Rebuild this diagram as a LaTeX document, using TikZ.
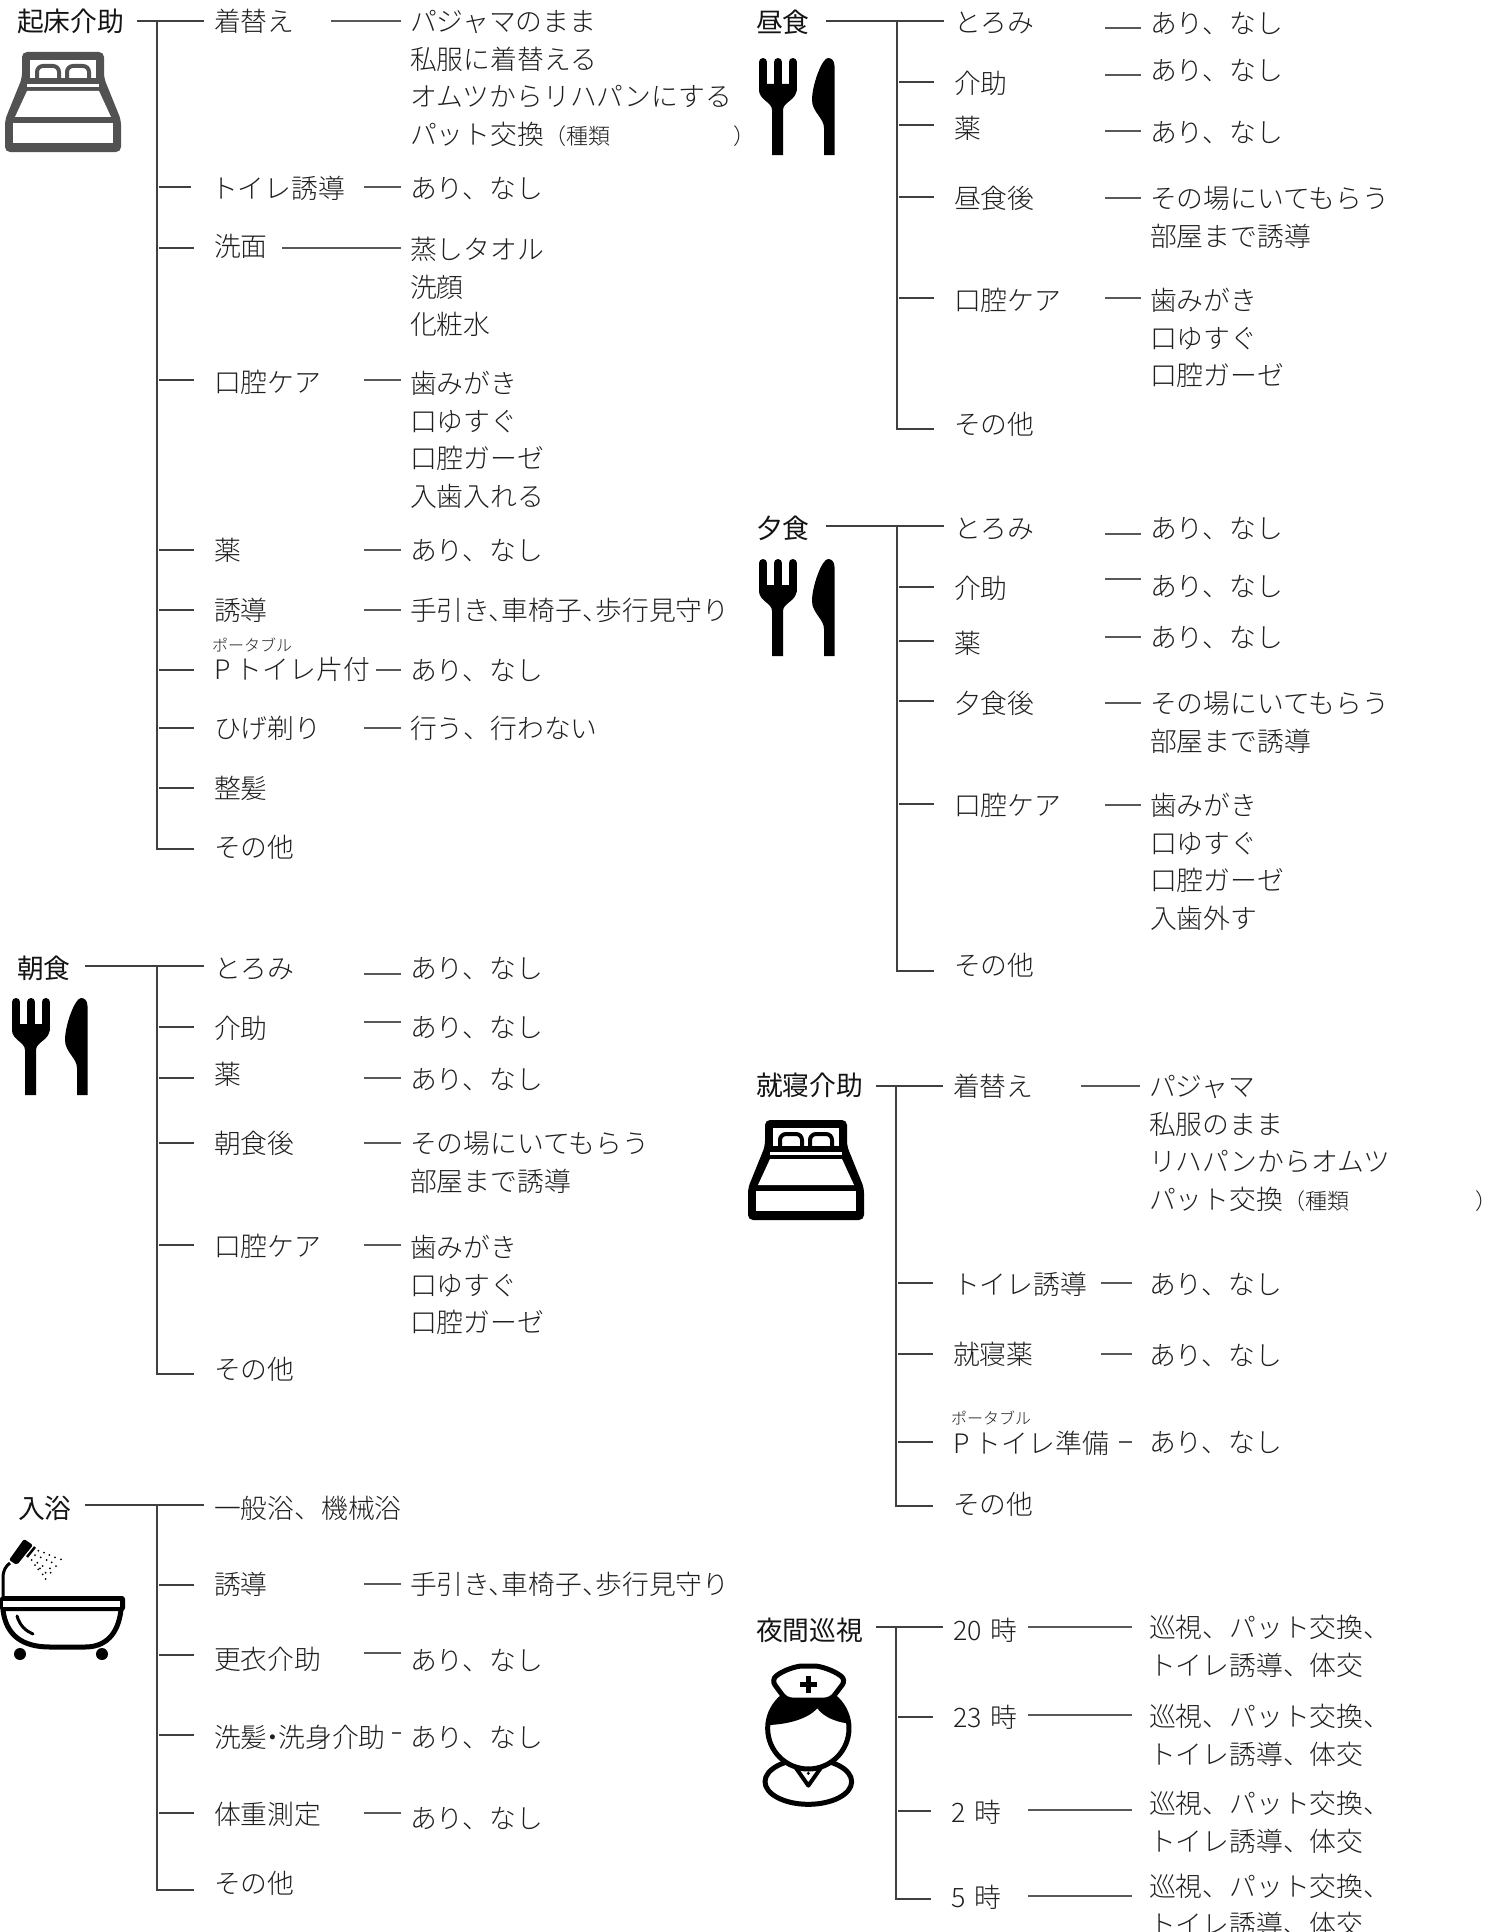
\documentclass[tikz,border=0pt]{standalone}
\usepackage{fontspec}
\setmainfont{Noto Sans CJK JP Light}
\newfontfamily\ttlfont{Noto Sans CJK JP}
\definecolor{inkT}{gray}{0.12}
\definecolor{inkH}{gray}{0.08}
\definecolor{spineC}{gray}{0.25}
\definecolor{leafC}{gray}{0.35}
\newcommand\bodyf{\fontsize{26.8}{37.4}\selectfont}
\newcommand\st{\rule{0pt}{24.8pt}}
\tikzset{
 lbl/.style={anchor=north west,inner sep=0pt,outer sep=0pt,align=left,font=\bodyf,text=inkT},
 ttl/.style={lbl,font=\ttlfont\bodyf,text=inkH},
 rubyt/.style={anchor=west,inner sep=0pt,font=\fontsize{16}{16}\selectfont,text=inkT},
 spine/.style={draw=spineC,line width=1.3pt},
 stub/.style={draw=spineC,line width=1.2pt,shorten <=2pt,shorten >=20pt},
 leaf/.style={draw=leafC,line width=1.1pt,shorten >=9pt},
 leafs/.style={draw=leafC,line width=1.1pt,shorten >=17pt},
 icon/.style={line join=round},
}
% text node whose east side lies at x1 (start of its connector)
\newcommand\tn[5]{\node[lbl,text width=#4pt-#2pt] (#1) at (#2,#3-14) {\st #5};}
\newcommand\hn[5]{\node[ttl,text width=#4pt-#2pt] (#1) at (#2,#3-14) {\st #5};}
\newcommand\vn[4]{\node[lbl] (#1) at (#2,#3-14) {\st #4};}
\newcommand\lf[3]{\draw[leaf] (#1.east |- 0,#3) -- (#2.west |- 0,#3);}
\newcommand\ls[3]{\draw[leafs] (#1.east |- 0,#3) -- (#2.west |- 0,#3);}
\newcommand\stb[3]{\draw[stub] (#1 |- 0,#3) -- (#2.west |- 0,#3);}
\newcommand\tp[3]{\draw[spine,shorten >=10pt] (#1.east |- #3) -- (#2.west |- #3);}
\newcommand\spn[3]{\draw[spine,shorten >=20pt] (#1) -- (#2) -- (#3.west |- #2);}
\newcommand\ari{あり、なし}
\newcommand\oral{歯みがき\\口ゆすぐ\\口腔ガーゼ}
\newcommand\tebiki{手引き、\kern-13.5pt 車椅子、\kern-13.5pt 歩行見守り}
\newcommand\junshi{巡視、パット交換、\\トイレ誘導、体交}
\newcommand\smlf{\fontsize{22}{37.4}\selectfont}
\newcommand\bedicon[3]{\begin{scope}[shift={(#1,#2)},icon]
 \fill[#3,rounded corners=5pt] (22,52)--(104,52)--(104,78)--(121,120)--(121,152)--(5,152)--(5,120)--(22,78)--cycle;
 \fill[white] (30,60) rectangle (96,78);
 \draw[#3,line width=4pt,rounded corners=6pt] (37,78)--(37,66)--(59,66)--(59,78);
 \draw[#3,line width=4pt,rounded corners=6pt] (67,78)--(67,66)--(89,66)--(89,78);
 \fill[white] (27,84) rectangle (99,87);
 \fill[white] (27,91)--(99,91)--(111,117)--(15,117)--cycle;
 \fill[white] (13,123) rectangle (113,143);
\end{scope}}
\newcommand\cutlery[2]{\begin{scope}[shift={(#1,#2)},icon]
 \draw[black,line width=8pt,line cap=round] (16,1002)--(16,1030) (31,1002)--(31,1030) (45.5,1002)--(45.5,1030);
 \fill[black] (12,1024)--(12,1030) .. controls (12,1040) and (25,1042) .. (25,1050)--(25,1095)--(36,1095)--(36,1050) .. controls (36,1042) and (49.5,1040) .. (49.5,1030)--(49.5,1024)--cycle;
 \fill[black] (87.5,1095)--(87.5,1006) .. controls (87.5,1000) and (84,998) .. (81,998) .. controls (75,998) and (65,1025) .. (65,1040) .. controls (65,1052) and (77,1058) .. (77,1068)--(77,1095)--cycle;
\end{scope}}
\begin{document}
\begin{tikzpicture}[x=1pt,y=-1pt]
\useasboundingbox (0,0) rectangle (1500,1932);
% ---------- icons
\bedicon{0}{0}{black!68}
\bedicon{743}{1068}{black}
\cutlery{0}{0}
\cutlery{747}{-940}
\cutlery{747}{-439}
% bath
\begin{scope}[shift={(0,1480)},x=1pt,y=-1pt,icon]
 \draw[black,line width=5pt,line cap=round] (3,130) .. controls (6,155) and (22,167) .. (50,167) -- (85,167) .. controls (105,167) and (118,155) .. (121,130);
 \draw[black,line width=3pt,line cap=round] (17,136) .. controls (20,146) and (26,151) .. (33,154);
 \fill[black] (20,174) ellipse (6 and 6);
 \fill[black] (102,174) ellipse (6 and 6);
 \fill[black,rounded corners=3pt] (0,116) rectangle (125,131);
 \fill[white] (3,121) rectangle (120,127);
 \draw[black,line width=3pt] (3,116) -- (3,98) .. controls (3,90) and (6,86) .. (10,83);
 \fill[black,rounded corners=2pt] (9,80)--(24,59)--(33,65)--(17,85)--cycle;
 \draw[black,line width=2.5pt] (27,77)--(35,67);
 \foreach \a/\b in {115/212,132/218,148/225,165/232,183/238,105/225,122/232,140/240,155/247,168/258,95/240,112/248,128/258,150/265,105/255,120/265,137/278,152/278,115/268,128/283,137/297}
  \fill[black] (\a/3,\b/3) circle (1);
\end{scope}
% nurse
\begin{scope}[shift={(740,1620)},x=0.3333pt,y=-0.3333pt,icon]
 \draw[black,line width=5pt,fill=white] (205,485) ellipse (130 and 68);
 \draw[black,line width=4pt,fill=white] (165,440)--(205,497)--(245,440)--cycle;
 \fill[black] (205,460) circle (5);
 \draw[black,line width=5pt,fill=white] (205,325) circle (122);
 \fill[black] (88,315) .. controls (85,260) and (120,215) .. (205,205) .. controls (290,215) and (325,260) .. (322,310) .. controls (285,305) and (250,290) .. (232,265) .. controls (205,295) and (150,312) .. (88,315) -- cycle;
 \draw[black,line width=5pt,fill=white,rounded corners=6pt] (138,240)--(94,180) .. controls (130,150) and (170,138) .. (205,138) .. controls (240,138) and (280,150) .. (318,180)--(272,240)--cycle;
 \fill[black] (198,168) rectangle (214,218);
 \fill[black] (180,185) rectangle (232,200);
\end{scope}
% ---------- 起床介助
\coordinate (s1t) at (157,21); \coordinate (s1b) at (157,849);
\hn{a0}{17}{21}{137}{起床介助}
\tn{a1}{214}{21}{331}{着替え}
\vn{a1v}{410}{21}{パジャマのまま\\私服に着替える\\オムツからリハパンにする\\パット交換{\smlf（種類\hspace*{123pt}）}}
\tn{a2}{211}{188}{364}{トイレ誘導}
\vn{a2v}{410}{188}{\ari}
\tn{a3}{214}{246}{282}{洗面}
\vn{a3v}{410}{249}{蒸しタオル\\洗顔\\化粧水}
\tn{a4}{214}{382}{364}{口腔ケア}
\vn{a4v}{410}{383}{\oral\\入歯入れる}
\tn{a5}{214}{550}{364}{薬}
\vn{a5v}{410}{550}{\ari}
\tn{a6}{214}{610}{364}{誘導}
\vn{a6v}{410}{610}{\tebiki}
\tn{a7}{214}{669}{376}{P\kern5.5pt トイレ片付}
\node[rubyt] (a7r) at (212,645) {ポータブル};
\vn{a7v}{410}{670}{\ari}
\tn{a8}{214}{728}{364}{ひげ剃り}
\vn{a8v}{410}{728}{行う、行わない}
\tn{a9}{214}{788}{364}{整髪}
\tn{a10}{214}{847}{364}{その他}
\tp{a0}{a1}{s1t}
\spn{s1t}{s1b}{a10}
\stb{s1t}{a2}{187}\stb{s1t}{a3}{248}\stb{s1t}{a4}{380}\stb{s1t}{a5}{550}\stb{s1t}{a6}{610}\stb{s1t}{a7}{670}\stb{s1t}{a8}{728}\stb{s1t}{a9}{788}
\lf{a1}{a1v}{21}\lf{a2}{a2v}{187}\lf{a3}{a3v}{248}\lf{a4}{a4v}{380}\lf{a5}{a5v}{550}\lf{a6}{a6v}{610}\lf{a7}{a7v}{670}\lf{a8}{a8v}{728}
% ---------- 朝食
\coordinate (s2t) at (157,966); \coordinate (s2b) at (157,1374);
\hn{b0}{17}{968}{85}{朝食}
\tn{b1}{214}{968}{364}{とろみ}
\vn{b1v}{410}{968}{\ari}
\tn{b2}{214}{1028}{364}{介助}
\vn{b2v}{410}{1027}{\ari}
\tn{b3}{214}{1074}{364}{薬}
\vn{b3v}{410}{1079}{\ari}
\tn{b4}{214}{1143}{364}{朝食後}
\vn{b4v}{410}{1143}{その場にいてもらう\\部屋まで誘導}
\tn{b5}{214}{1246}{364}{口腔ケア}
\vn{b5v}{410}{1247}{\oral}
\tn{b6}{214}{1369}{364}{その他}
\tp{b0}{b1}{s2t}
\spn{s2t}{s2b}{b6}
\stb{s2t}{b2}{1027}\stb{s2t}{b3}{1078}\stb{s2t}{b4}{1143}\stb{s2t}{b5}{1245}
\lf{b1}{b1v}{974}\lf{b2}{b2v}{1022}\lf{b3}{b3v}{1078}\lf{b4}{b4v}{1143}\lf{b5}{b5v}{1245}
% ---------- 入浴
\coordinate (s3t) at (157,1505); \coordinate (s3b) at (157,1890);
\hn{c0}{18}{1508}{85}{入浴}
\tn{c1}{214}{1508}{364}{一般浴、機械浴}
\tn{c2}{214}{1584}{364}{誘導}
\vn{c2v}{410}{1584}{\tebiki}
\tn{c3}{214}{1659}{364}{更衣介助}
\vn{c3v}{410}{1660}{\ari}
\tn{c4}{214}{1737}{392}{洗髪\kern-8pt ・\kern-8pt 洗身介助}
\vn{c4v}{410}{1737}{\ari}
\tn{c5}{214}{1814}{364}{体重測定}
\vn{c5v}{410}{1818}{\ari}
\tn{c6}{214}{1883}{364}{その他}
\tp{c0}{c1}{s3t}
\spn{s3t}{s3b}{c6}
\stb{s3t}{c2}{1585}\stb{s3t}{c3}{1655}\stb{s3t}{c4}{1735}\stb{s3t}{c5}{1813}
\lf{c2}{c2v}{1584}\lf{c3}{c3v}{1653}\lf{c4}{c4v}{1733}\lf{c5}{c5v}{1813}
% ---------- 昼食
\coordinate (s4t) at (897,21); \coordinate (s4b) at (897,429);
\hn{d0}{756}{22}{826}{昼食}
\tn{d1}{954}{22}{1105}{とろみ}
\vn{d1v}{1150}{23}{\ari}
\tn{d2}{954}{83}{1105}{介助}
\vn{d2v}{1150}{70}{\ari}
\tn{d3}{954}{128}{1105}{薬}
\vn{d3v}{1150}{132}{\ari}
\tn{d4}{954}{198}{1105}{昼食後}
\vn{d4v}{1150}{198}{その場にいてもらう\\部屋まで誘導}
\tn{d5}{954}{300}{1105}{口腔ケア}
\vn{d5v}{1150}{300}{\oral}
\tn{d6}{954}{424}{1105}{その他}
\tp{d0}{d1}{s4t}
\spn{s4t}{s4b}{d6}
\stb{s4t}{d2}{82}\stb{s4t}{d3}{125}\stb{s4t}{d4}{197}\stb{s4t}{d5}{298}
\lf{d1}{d1v}{28}\lf{d2}{d2v}{75}\lf{d3}{d3v}{131}\lf{d4}{d4v}{198}\lf{d5}{d5v}{298}
% ---------- 夕食
\coordinate (s5t) at (897,526); \coordinate (s5b) at (897,971);
\hn{e0}{756}{528}{826}{夕食}
\tn{e1}{954}{528}{1105}{とろみ}
\vn{e1v}{1150}{528}{\ari}
\tn{e2}{954}{588}{1105}{介助}
\vn{e2v}{1150}{586}{\ari}
\tn{e3}{954}{643}{1105}{薬}
\vn{e3v}{1150}{637}{\ari}
\tn{e4}{954}{703}{1105}{夕食後}
\vn{e4v}{1150}{703}{その場にいてもらう\\部屋まで誘導}
\tn{e5}{954}{805}{1105}{口腔ケア}
\vn{e5v}{1150}{805}{\oral\\入歯外す}
\tn{e6}{954}{965}{1105}{その他}
\tp{e0}{e1}{s5t}
\spn{s5t}{s5b}{e6}
\stb{s5t}{e2}{587}\stb{s5t}{e3}{641}\stb{s5t}{e4}{701}\stb{s5t}{e5}{804}
\lf{e1}{e1v}{534}\lf{e2}{e2v}{579}\lf{e3}{e3v}{637}\lf{e4}{e4v}{703}\lf{e5}{e5v}{805}
% ---------- 就寝介助
\coordinate (s6t) at (896,1086); \coordinate (s6b) at (896,1506);
\hn{f0}{756}{1085}{876}{就寝介助}
\tn{f1}{953}{1086}{1081}{着替え}
\vn{f1v}{1149}{1086}{パジャマ\\私服のまま\\リハパンからオムツ\\パット交換{\smlf（種類\hspace*{126pt}）}}
\tn{f2}{953}{1284}{1101}{トイレ誘導}
\vn{f2v}{1149}{1284}{\ari}
\tn{f3}{953}{1354}{1101}{就寝薬}
\vn{f3v}{1149}{1355}{\ari}
\tn{f4}{953}{1443}{1119}{P\kern5.5pt トイレ準備}
\node[rubyt] (f4r) at (951,1418) {ポータブル};
\vn{f4v}{1149}{1442}{\ari}
\tn{f5}{953}{1504}{1101}{その他}
\tp{f0}{f1}{s6t}
\spn{s6t}{s6b}{f5}
\stb{s6t}{f2}{1283}\stb{s6t}{f3}{1354}\stb{s6t}{f4}{1442}
\lf{f1}{f1v}{1086}\ls{f2}{f2v}{1283}\ls{f3}{f3v}{1354}\ls{f4}{f4v}{1442}
% ---------- 夜間巡視
\coordinate (s7t) at (896,1627); \coordinate (s7b) at (896,1899);
\hn{g0}{756}{1630}{876}{夜間巡視}
\tn{g1}{953}{1630}{1028}{20 時}
\vn{g1v}{1149}{1627}{\junshi}
\tn{g2}{953}{1717}{1028}{23 時}
\vn{g2v}{1149}{1716}{\junshi}
\tn{g3}{951}{1812}{1028}{2 時}
\vn{g3v}{1149}{1803}{\junshi}
\tn{g4}{951}{1897}{1028}{5 時}
\vn{g4v}{1149}{1886}{\junshi}
\tp{g0}{g1}{s7t}
\spn{s7t}{s7b}{g4}
\stb{s7t}{g2}{1717}\stb{s7t}{g3}{1811}
\ls{g1}{g1v}{1627}\ls{g2}{g2v}{1715}\ls{g3}{g3v}{1810}\ls{g4}{g4v}{1896}
\end{tikzpicture}
\end{document}
